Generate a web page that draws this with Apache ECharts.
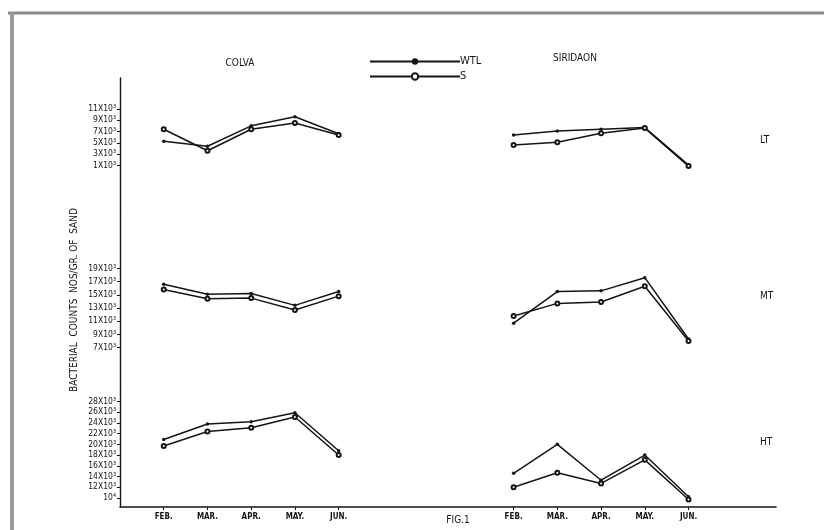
<!DOCTYPE html>
<html>
<head>
<meta charset="utf-8">
<style>
html,body{margin:0;padding:0;background:#fff;}
#chart{width:824px;height:530px;}
</style>
<script src="https://cdn.jsdelivr.net/npm/echarts@6/dist/echarts.min.js"></script>
</head>
<body>
<div id="chart"></div>
<script>
// ---- data (bacterial counts, x10^3 per gram of sand) ----
const months = ['FEB.', 'MAR.', 'APR.', 'MAY.', 'JUN.'];
const sites = ['COLVA', 'SIRIDAON'];
const bands = ['LT', 'MT', 'HT'];
const seriesNames = ['WTL', 'S'];

const colvaLT_WTL = [5.3, 4.4, 8.0, 9.6, 6.6];
const colvaLT_S   = [7.4, 3.6, 7.4, 8.5, 6.4];
const siriLT_WTL  = [6.4, 7.1, 7.4, 7.7, 1.1];
const siriLT_S    = [4.6, 5.1, 6.7, 7.6, 0.9];

const colvaMT_WTL = [16.6, 15.1, 15.2, 13.4, 15.5];
const colvaMT_S   = [15.8, 14.4, 14.5, 12.7, 14.8];
const siriMT_WTL  = [10.7, 15.5, 15.6, 17.6, 8.3];
const siriMT_S    = [11.8, 13.7, 13.9, 16.3, 8.0];

const colvaHT_WTL = [20.9, 23.8, 24.2, 25.9, 18.8];
const colvaHT_S   = [19.7, 22.4, 23.1, 25.1, 18.0];
const siriHT_WTL  = [14.6, 20.0, 13.3, 18.0, 10.2];
const siriHT_S    = [12.0, 14.7, 12.7, 17.1, 9.7];

const ticksLT = [1, 3, 5, 7, 9, 11];
const ticksMT = [7, 9, 11, 13, 15, 17, 19];
const ticksHT = [10, 12, 14, 16, 18, 20, 22, 24, 26, 28];

// ---- layout ----
const FONT = "'DejaVu Sans Condensed','Liberation Sans Narrow','DejaVu Sans',sans-serif";
const categories = ['', ...months, '', '', '', ...months, '', ''];
function row(c, s) { return [null, ...c, null, null, null, ...s, null, null]; }

const grids = [
  { top: 78, height: 137, min: -7.73, max: 16.44, ticks: ticksLT },
  { top: 215, height: 170, min: 1.32, max: 27.11, ticks: ticksMT },
  { top: 385, height: 122, min: 8.3, max: 31.08, ticks: ticksHT }
];
const data = [
  [row(colvaLT_WTL, siriLT_WTL), row(colvaLT_S, siriLT_S)],
  [row(colvaMT_WTL, siriMT_WTL), row(colvaMT_S, siriMT_S)],
  [row(colvaHT_WTL, siriHT_WTL), row(colvaHT_S, siriHT_S)]
];

const ink = '#151515';
const option = {
  animation: false,
  backgroundColor: '#fff',
  legend: {
    data: seriesNames,
    orient: 'vertical',
    left: 364, top: 51,
    itemWidth: 90, itemHeight: 8, itemGap: 4,
    textStyle: { fontFamily: FONT, fontSize: 11, color: ink, padding: [0, 0, 0, -5] }
  },
  grid: grids.map(g => ({ left: 120, right: 48, top: g.top, height: g.height })),
  xAxis: grids.map((g, i) => ({
    type: 'category',
    gridIndex: i,
    data: categories,
    boundaryGap: false,
    axisLine: { show: i === 2, lineStyle: { color: ink, width: 1.6 } },
    axisTick: {
      show: i === 2, length: 3, lineStyle: { color: ink },
      interval: (idx, v) => v !== ''
    },
    axisLabel: {
      show: i === 2, interval: 0, margin: 6,
      fontFamily: FONT, fontSize: 8, fontWeight: 'bold', color: ink
    },
    splitLine: { show: false }
  })),
  yAxis: grids.map((g, i) => ({
    type: 'value',
    gridIndex: i,
    min: g.min, max: g.max,
    axisLine: { show: true, lineStyle: { color: ink, width: 1.4 } },
    axisTick: { show: true, customValues: g.ticks, length: 3, lineStyle: { color: ink } },
    axisLabel: {
      customValues: g.ticks, margin: 4,
      fontFamily: FONT, fontSize: 8.5, color: ink,
      formatter: v => (i === 2 && v === 10) ? '10⁴' : v + 'X10³'
    },
    splitLine: { show: false }
  })),
  series: [],
  graphic: [
    { type: 'line', shape: { x1: 8, y1: 13, x2: 824, y2: 13 }, style: { stroke: '#8a8a8a', lineWidth: 3 } },
    { type: 'line', shape: { x1: 12, y1: 12, x2: 12, y2: 530 }, style: { stroke: '#9a9a9a', lineWidth: 4 } },
    { type: 'text', x: 240, y: 63, style: { text: sites[0], fontFamily: FONT, fontSize: 10, fill: ink, textAlign: 'center', textVerticalAlign: 'middle' } },
    { type: 'text', x: 575, y: 58, style: { text: sites[1], fontFamily: FONT, fontSize: 10, fill: ink, textAlign: 'center', textVerticalAlign: 'middle' } },
    { type: 'text', x: 760, y: 140, style: { text: bands[0], fontFamily: FONT, fontSize: 10, fill: ink, textVerticalAlign: 'middle' } },
    { type: 'text', x: 760, y: 296, style: { text: bands[1], fontFamily: FONT, fontSize: 10, fill: ink, textVerticalAlign: 'middle' } },
    { type: 'text', x: 760, y: 442, style: { text: bands[2], fontFamily: FONT, fontSize: 10, fill: ink, textVerticalAlign: 'middle' } },
    { type: 'text', x: 458, y: 520, style: { text: 'FIG.1', fontFamily: FONT, fontSize: 10, fill: ink, textAlign: 'center', textVerticalAlign: 'middle' } },
    { type: 'text', x: 74, y: 300, rotation: Math.PI / 2,
      style: { text: 'BACTERIAL  COUNTS  NOS/GR. OF  SAND', fontFamily: FONT, fontSize: 10, fill: ink, textAlign: 'center', textVerticalAlign: 'middle' } }
  ]
};

grids.forEach((g, i) => {
  seriesNames.forEach((name, k) => {
    option.series.push({
      name: name,
      type: 'line',
      xAxisIndex: i,
      yAxisIndex: i,
      data: data[i][k],
      connectNulls: false,
      symbol: k === 0 ? 'circle' : 'emptyCircle',
      symbolSize: k === 0 ? 3.5 : 4,
      showSymbol: true,
      lineStyle: { color: ink, width: 1.5 },
      itemStyle: { color: ink, borderColor: ink, borderWidth: k === 0 ? 0 : 1 }
    });
  });
});

const chart = echarts.init(document.getElementById('chart'), null, { renderer: 'canvas' });
chart.setOption(option);
</script>
</body>
</html>
